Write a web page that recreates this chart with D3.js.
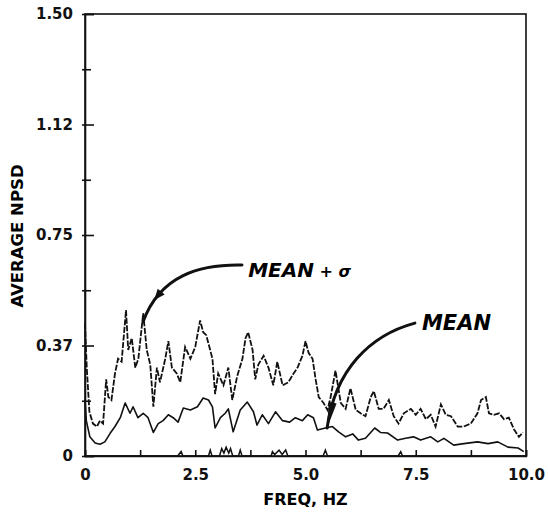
<!DOCTYPE html>
<html>
<head>
<meta charset="utf-8">
<script src="https://cdn.jsdelivr.net/npm/d3@7"></script>
<style>
  body { margin: 0; background: #fff; }
  svg { display: block; }
  .axis text { font-family: "DejaVu Sans", sans-serif; font-weight: bold; font-size: 15px; fill: #111; }
  .axis path, .axis line { stroke: #111; stroke-width: 1.6; }
</style>
</head>
<body>
<div class="chart"></div>
<script>
// mean NPSD curve (solid)
var meanFreq = [0.0, 0.03, 0.11, 0.23, 0.34, 0.45, 0.57, 0.68, 0.80, 0.91, 1.02, 1.09, 1.20, 1.32, 1.43, 1.55, 1.66, 1.77, 1.89, 2.00,
    2.11, 2.23, 2.39, 2.55, 2.68, 2.80, 2.89, 2.95, 3.07, 3.18, 3.25, 3.36, 3.52, 3.68, 3.82, 3.90, 4.02, 4.16, 4.32, 4.48,
    4.64, 4.77, 4.93, 5.05, 5.18, 5.27, 5.45, 5.61, 5.75, 5.91, 6.07, 6.20, 6.36, 6.57, 6.70, 6.86, 7.09, 7.27, 7.45, 7.61,
    7.84, 8.00, 8.14, 8.36, 8.59, 8.90, 9.14, 9.36, 9.59, 9.82, 9.95];
var meanNpsd = [0.19, 0.12, 0.065, 0.044, 0.04, 0.048, 0.077, 0.10, 0.13, 0.18, 0.145, 0.167, 0.13, 0.145, 0.13, 0.08, 0.11, 0.12, 0.14, 0.13,
    0.115, 0.163, 0.156, 0.167, 0.197, 0.19, 0.167, 0.095, 0.13, 0.145, 0.16, 0.082, 0.156, 0.183, 0.15, 0.105, 0.14, 0.11, 0.15, 0.12,
    0.115, 0.13, 0.12, 0.14, 0.13, 0.088, 0.095, 0.10, 0.082, 0.065, 0.075, 0.054, 0.06, 0.095, 0.08, 0.078, 0.054, 0.06, 0.065, 0.054,
    0.065, 0.048, 0.06, 0.037, 0.042, 0.048, 0.042, 0.048, 0.03, 0.027, 0.015];

// mean + sigma curve (broken line)
var sigmaFreq = [0.0, 0.04, 0.10, 0.18, 0.27, 0.34, 0.41, 0.48, 0.53, 0.60, 0.68, 0.75, 0.83, 0.93, 0.98, 1.06, 1.14, 1.21, 1.32, 1.40,
    1.48, 1.55, 1.63, 1.70, 1.82, 1.89, 1.97, 2.08, 2.16, 2.27, 2.39, 2.50, 2.61, 2.68, 2.75, 2.89, 2.95, 3.02, 3.14, 3.25,
    3.34, 3.45, 3.57, 3.64, 3.70, 3.80, 3.86, 3.93, 4.05, 4.16, 4.27, 4.36, 4.48, 4.61, 4.73, 4.82, 4.93, 5.00, 5.07, 5.16,
    5.23, 5.30, 5.41, 5.50, 5.57, 5.68, 5.80, 5.91, 6.02, 6.14, 6.25, 6.36, 6.48, 6.55, 6.66, 6.77, 6.89, 7.00, 7.11, 7.23,
    7.39, 7.50, 7.61, 7.73, 7.84, 7.95, 8.07, 8.18, 8.30, 8.45, 8.59, 8.75, 8.90, 8.98, 9.09, 9.16, 9.27, 9.39, 9.50, 9.61,
    9.73, 9.84, 9.93];
var sigmaNpsd = [0.45, 0.30, 0.15, 0.11, 0.10, 0.12, 0.11, 0.26, 0.20, 0.19, 0.28, 0.33, 0.32, 0.495, 0.36, 0.40, 0.30, 0.33, 0.485, 0.36,
    0.31, 0.167, 0.30, 0.25, 0.33, 0.39, 0.30, 0.28, 0.25, 0.37, 0.33, 0.37, 0.46, 0.42, 0.41, 0.33, 0.21, 0.28, 0.24, 0.30,
    0.19, 0.27, 0.33, 0.40, 0.42, 0.36, 0.26, 0.31, 0.34, 0.30, 0.24, 0.32, 0.24, 0.25, 0.28, 0.30, 0.34, 0.39, 0.35, 0.33,
    0.26, 0.20, 0.18, 0.156, 0.20, 0.29, 0.18, 0.16, 0.23, 0.156, 0.145, 0.135, 0.20, 0.22, 0.16, 0.16, 0.19, 0.135, 0.11, 0.145,
    0.16, 0.14, 0.16, 0.125, 0.14, 0.10, 0.175, 0.14, 0.135, 0.10, 0.10, 0.11, 0.145, 0.19, 0.20, 0.145, 0.14, 0.145, 0.125, 0.13,
    0.09, 0.065, 0.08];

// near-zero trace along the baseline
var lowFreq = [0, 2.1, 2.18, 2.22, 2.8, 2.84, 2.88, 3.05, 3.1, 3.15, 3.2, 3.26, 3.3, 3.35, 3.48, 3.52, 3.56,
    4.22, 4.25, 4.3, 4.4, 4.47, 4.55, 4.6, 5.4, 5.45, 5.5, 7.1, 7.16, 7.2, 10];
var lowNpsd = [0, 0, 0.015, 0, 0, 0.02, 0, 0, 0.025, 0.01, 0.03, 0.01, 0.025, 0, 0, 0.02, 0,
    0, 0.015, 0.005, 0.02, 0.005, 0.02, 0, 0, 0.02, 0, 0, 0.015, 0, 0];

var yTickValues = [0, 0.375, 0.75, 1.125, 1.5];
var yTickLabels = ['0', '0.37', '0.75', '1.12', '1.50'];
var yMinorTicks = [0.1875, 0.5625, 0.9375, 1.3125];
var xTickValues = [0, 2.5, 5, 7.5, 10];
var xTickLabels = ['0', '2.5', '5.0', '7.5', '10.0'];
var xMinorTicks = [1.25, 3.75, 6.25, 8.75];

var margin = {top: 14, right: 22, bottom: 56, left: 85},
    width = 548 - margin.left - margin.right,
    height = 512 - margin.top - margin.bottom;

var svg = d3.select('div.chart')
    .append('svg')
        .attr('width', 548)
        .attr('height', 512)
    .append('g')
        .attr('transform', 'translate(' + margin.left + ',' + margin.top + ')');

var x = d3.scaleLinear().domain([0, 10]).range([0, width]);
var y = d3.scaleLinear().domain([0, 1.5]).range([height, 0]);

// frame
svg.append('rect')
    .attr('width', width)
    .attr('height', height)
    .attr('fill', 'none')
    .attr('stroke', '#111')
    .attr('stroke-width', 1.6);

svg.append('g')
    .attr('class', 'x axis')
    .attr('transform', 'translate(0,' + height + ')')
    .call(d3.axisBottom(x)
        .tickValues(xTickValues)
        .tickFormat((d, i) => xTickLabels[i])
        .tickSize(-6)
        .tickPadding(13));
svg.append('g')
    .attr('class', 'x axis')
    .attr('transform', 'translate(0,' + height + ')')
    .call(d3.axisBottom(x).tickValues(xMinorTicks).tickFormat('').tickSize(-6))
    .select('.domain').remove();

svg.append('g')
    .attr('class', 'y axis')
    .call(d3.axisLeft(y)
        .tickValues(yTickValues)
        .tickFormat((d, i) => yTickLabels[i])
        .tickSize(-9)
        .tickPadding(12));
svg.append('g')
    .attr('class', 'y axis')
    .call(d3.axisLeft(y).tickValues(yMinorTicks).tickFormat('').tickSize(-6))
    .select('.domain').remove();
svg.selectAll('.y.axis .tick line').attr('x1', -3);

svg.append('text')
    .attr('x', width / 2)
    .attr('y', height + 49)
    .attr('text-anchor', 'middle')
    .style('font-family', '"DejaVu Sans", sans-serif')
    .style('font-weight', 'bold')
    .style('font-size', '16px')
    .text('FREQ, HZ');

svg.append('text')
    .attr('transform', 'translate(' + (-62) + ',' + (236 - margin.top) + ') rotate(-90)')
    .attr('text-anchor', 'middle')
    .style('font-family', '"DejaVu Sans", sans-serif')
    .style('font-weight', 'bold')
    .style('font-size', '16.5px')
    .text('AVERAGE NPSD');

var line = d3.line()
    .x((d) => x(d[0]))
    .y((d) => y(d[1]));

svg.append('path')
    .datum(d3.zip(lowFreq, lowNpsd))
    .attr('fill', 'none')
    .attr('stroke', '#111')
    .attr('stroke-width', 1.5)
    .attr('d', line);

svg.append('path')
    .datum(d3.zip(meanFreq, meanNpsd))
    .attr('fill', 'none')
    .attr('stroke', '#111')
    .attr('stroke-width', 1.6)
    .attr('stroke-linejoin', 'round')
    .attr('d', line);

svg.append('path')
    .datum(d3.zip(sigmaFreq, sigmaNpsd))
    .attr('fill', 'none')
    .attr('stroke', '#111')
    .attr('stroke-width', 1.8)
    .attr('stroke-dasharray', '6,1.6')
    .attr('d', line);

// annotation arrows, in data units
function arrow(pts, at, len, half) {
    var p = d3.path();
    p.moveTo(x(pts[0][0]), y(pts[0][1]));
    p.bezierCurveTo(x(pts[1][0]), y(pts[1][1]), x(pts[2][0]), y(pts[2][1]), x(pts[3][0]), y(pts[3][1]));
    var path = svg.append('path')
        .attr('d', p.toString())
        .attr('fill', 'none')
        .attr('stroke', '#111')
        .attr('stroke-width', 3)
        .attr('stroke-linecap', 'round');
    var node = path.node(), total = node.getTotalLength();
    var tip = node.getPointAtLength(total * at),
        back = node.getPointAtLength(Math.max(0, total * at - len));
    var dx = tip.x - back.x, dy = tip.y - back.y, n = Math.hypot(dx, dy);
    var ux = dx / n, uy = dy / n;
    var bx = tip.x - ux * len, by = tip.y - uy * len;
    svg.append('path')
        .attr('d', 'M' + tip.x + ',' + tip.y +
            'L' + (bx - uy * half) + ',' + (by + ux * half) +
            'L' + (bx + uy * half) + ',' + (by - ux * half) + 'Z')
        .attr('fill', '#111');
}

arrow([[3.56, 0.648], [2.61, 0.651], [1.70, 0.614], [1.315, 0.455]], 0.8, 11, 4.5);
arrow([[7.48, 0.451], [6.46, 0.41], [5.67, 0.292], [5.49, 0.095]], 1.0, 26, 4);

var label1 = svg.append('text')
    .attr('x', x(3.70))
    .attr('y', y(0.607))
    .style('font-family', '"DejaVu Sans", sans-serif')
    .style('font-weight', 'bold')
    .style('font-style', 'oblique')
    .style('font-size', '20px');
label1.append('tspan').text('MEAN');
label1.append('tspan').style('font-size', '16px').text(' + σ');

svg.append('text')
    .attr('x', x(7.64))
    .attr('y', y(0.428))
    .style('font-family', '"DejaVu Sans", sans-serif')
    .style('font-weight', 'bold')
    .style('font-style', 'oblique')
    .style('font-size', '21px')
    .text('MEAN');
</script>
</body>
</html>
